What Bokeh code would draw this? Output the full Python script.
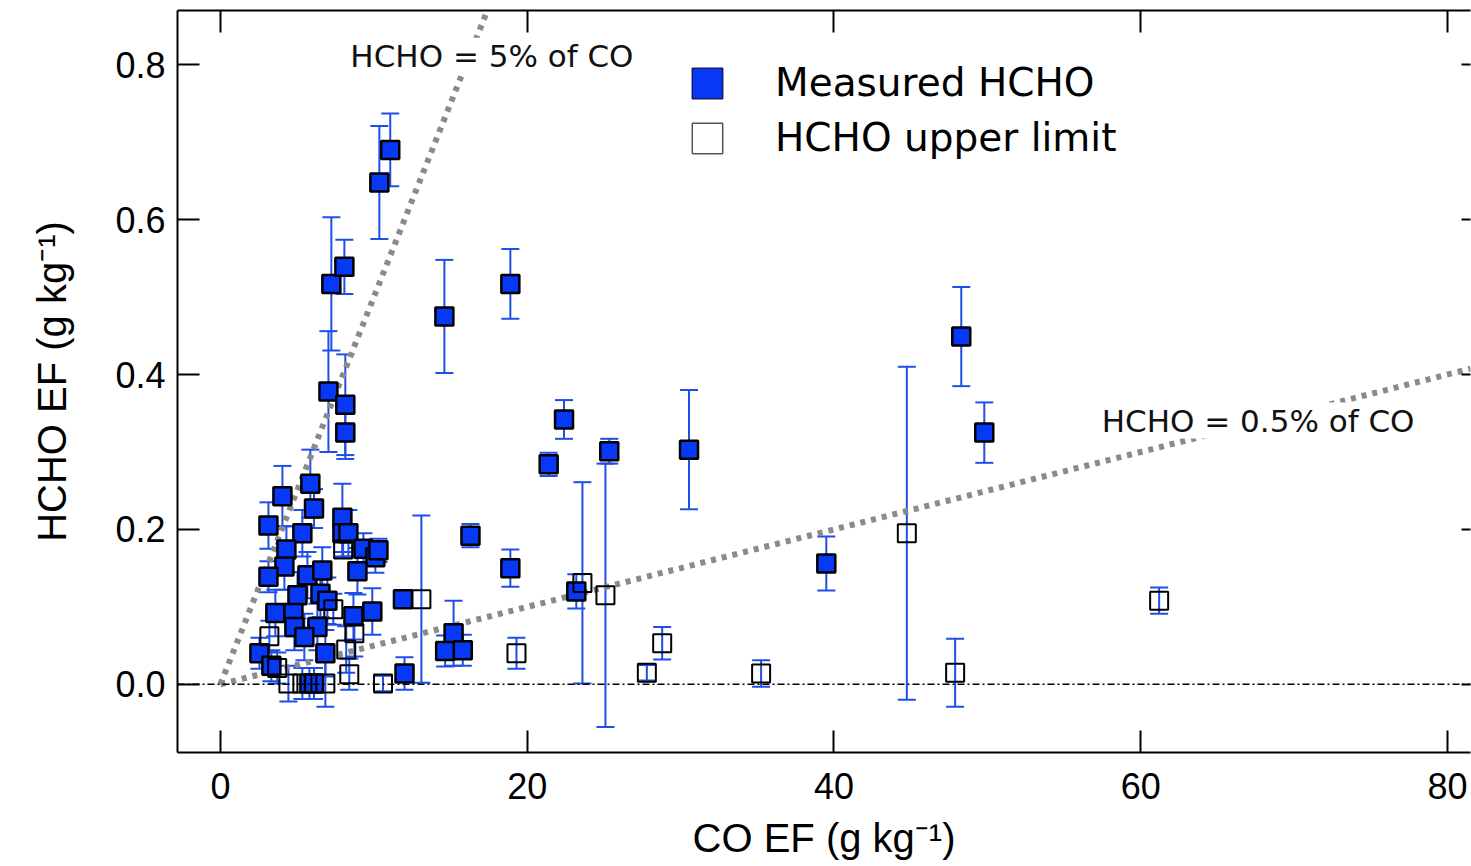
import numpy as np
from bokeh.plotting import figure
from bokeh.models import (ColumnDataSource, Whisker, TeeHead, Span, Label, Legend, LegendItem,
                          LinearAxis, FixedTicker, NumeralTickFormatter, Range1d,
                          CustomJSTickFormatter)
from bokeh.embed import file_html
from bokeh.resources import INLINE

# ---------------- data ----------------
# Measured HCHO: CO EF (g/kg), HCHO EF (g/kg), uncertainty (g/kg)
co_meas = [11.07, 10.36, 7.23, 8.08, 7.04, 8.14, 8.14, 14.6, 18.9, 22.4, 21.4, 25.35,
           30.55, 16.3, 18.9, 23.2, 11.9, 15.2, 14.65, 15.8, 12.0, 39.5, 48.3, 49.8,
           5.86, 4.04, 6.1, 3.13, 7.95, 7.95, 8.34, 5.34, 4.3, 4.17, 3.13, 5.67,
           6.64, 9.32, 10.1, 10.3, 8.93, 5.02, 6.52, 6.97, 3.58, 4.76, 4.82, 6.32,
           5.47, 8.67, 9.9, 2.54, 6.84, 3.32, 5.8, 6.1]
hcho_meas = [0.690, 0.648, 0.517, 0.539, 0.378, 0.361, 0.325, 0.475, 0.517, 0.342, 0.284, 0.301,
             0.303, 0.192, 0.150, 0.120, 0.110, 0.066, 0.043, 0.044, 0.014, 0.156, 0.449, 0.325,
             0.259, 0.243, 0.227, 0.205, 0.215, 0.195, 0.195, 0.195, 0.174, 0.152, 0.139, 0.141,
             0.147, 0.175, 0.164, 0.173, 0.146, 0.115, 0.117, 0.108, 0.092, 0.092, 0.074, 0.074,
             0.061, 0.088, 0.094, 0.040, 0.040, 0.024, 0.001, 0.001]
err_meas = [0.047, 0.073, 0.086, 0.035, 0.078, 0.065, 0.034, 0.073, 0.045, 0.025, 0.015, 0.016,
            0.077, 0.015, 0.024, 0.022, 0.008, 0.042, 0.020, 0.020, 0.021, 0.035, 0.064, 0.039,
            0.044, 0.039, 0.025, 0.030, 0.044, 0.030, 0.030, 0.030, 0.030, 0.030, 0.020, 0.030,
            0.030, 0.020, 0.020, 0.015, 0.030, 0.030, 0.030, 0.030, 0.030, 0.030, 0.030, 0.030,
            0.030, 0.030, 0.030, 0.020, 0.030, 0.020, 0.020, 0.020]

# HCHO upper limits
co_ul = [25.1, 23.6, 13.1, 19.3, 27.8, 28.8, 44.75, 47.9, 35.25, 61.2,
         3.19, 7.36, 8.73, 8.2, 8.4, 4.43, 5.34, 6.84, 10.6, 8.0, 3.7]
hcho_ul = [0.115, 0.131, 0.110, 0.040, 0.015, 0.053, 0.195, 0.015, 0.014, 0.108,
           0.062, 0.097, 0.066, 0.045, 0.013, 0.001, 0.001, 0.001, 0.001, 0.174, 0.021]
err_ul = [0.170, 0.130, 0.108, 0.020, 0.010, 0.021, 0.215, 0.044, 0.017, 0.017,
          0.020, 0.020, 0.030, 0.030, 0.020, 0.023, 0.020, 0.030, 0.010, 0.010, 0.020]

# reference ratio lines (HCHO = ratio * CO)
ratios = [0.05, 0.005]
ratio_labels = ["HCHO = 5% of CO", "HCHO = 0.5% of CO"]

x_ticks = [0, 20, 40, 60, 80]
y_ticks = [0.0, 0.2, 0.4, 0.6, 0.8]
x_lo, x_hi = -2.8, 81.5
y_lo, y_hi = -0.088, 0.87

# ---------------- figure ----------------
p = figure(width=1471, height=866, output_backend="svg", toolbar_location=None,
           x_range=Range1d(x_lo, x_hi), y_range=Range1d(y_lo, y_hi),
           min_border_left=177, min_border_right=1, min_border_top=10, min_border_bottom=114,
           x_axis_label="CO EF (g kg\u207b\u00b9)", y_axis_label="HCHO EF (g kg\u207b\u00b9)")
p.grid.visible = False
p.outline_line_color = None
p.background_fill_color = "white"
p.border_fill_color = "white"

tick_font = "Liberation Sans"
for ax in (p.xaxis[0], p.yaxis[0]):
    ax.major_tick_in = 22
    ax.major_tick_out = 0
    ax.minor_tick_line_color = None
    ax.axis_line_width = 2
    ax.major_tick_line_width = 2
    ax.axis_line_color = "black"
    ax.major_tick_line_color = "black"
    ax.major_label_text_font = tick_font
    ax.major_label_text_font_size = "36px"
    ax.major_label_text_color = "black"
    ax.axis_label_text_font = tick_font
    ax.axis_label_text_font_size = "40px"
    ax.axis_label_text_font_style = "normal"
    ax.axis_label_text_color = "black"

p.xaxis[0].ticker = FixedTicker(ticks=x_ticks)
p.yaxis[0].ticker = FixedTicker(ticks=y_ticks)
p.yaxis[0].formatter = NumeralTickFormatter(format="0.0")
p.xaxis[0].major_label_standoff = 20
p.xaxis[0].axis_label_standoff = 14
p.yaxis[0].major_label_standoff = 12
p.yaxis[0].axis_label_standoff = 38

# mirrored axes without labels (top and right)
blank = CustomJSTickFormatter(code="return ''")
top_ax = LinearAxis(ticker=FixedTicker(ticks=x_ticks), formatter=blank, major_tick_in=22,
                    major_tick_out=0, minor_tick_line_color=None, axis_line_width=2,
                    major_tick_line_width=2, major_label_standoff=0)
right_ax = LinearAxis(ticker=FixedTicker(ticks=y_ticks), formatter=blank, major_tick_in=9,
                      major_tick_out=0, minor_tick_line_color=None, axis_line_color=None,
                      major_tick_line_width=2, major_label_standoff=0)
p.add_layout(top_ax, "above")
p.add_layout(right_ax, "right")

# zero line
p.add_layout(Span(location=0, dimension="width", line_color="black", line_width=1.5,
                  line_dash="7 3 2 3"))

# ratio lines
for r in ratios:
    x_end = min(x_hi, y_hi / r)
    p.line([0, x_end], [0, r * x_end], line_color="#8a8a8a", line_width=6, line_dash="5 6")

# error bars
blue_err = "#1f4fe6"
src_m = ColumnDataSource(dict(x=co_meas, y=hcho_meas,
                              upper=np.array(hcho_meas) + np.array(err_meas),
                              lower=np.array(hcho_meas) - np.array(err_meas)))
src_u = ColumnDataSource(dict(x=co_ul, y=hcho_ul,
                              upper=np.array(hcho_ul) + np.array(err_ul),
                              lower=np.array(hcho_ul) - np.array(err_ul)))
for src in (src_m, src_u):
    w = Whisker(source=src, base="x", upper="upper", lower="lower", dimension="height",
                line_color=blue_err, line_width=2, level="underlay",
                upper_head=TeeHead(size=18, line_color=blue_err, line_width=2),
                lower_head=TeeHead(size=18, line_color=blue_err, line_width=2))
    p.add_layout(w)

# markers
p.scatter("x", "y", source=src_m, marker="square", size=18, fill_color="#0638f5",
          line_color="black", line_width=2.5)
p.scatter("x", "y", source=src_u, marker="square", size=18, fill_alpha=0,
          line_color="black", line_width=2)

# ratio labels (white background hides the line behind)
p.add_layout(Label(x=8.47, y=0.8116, text=ratio_labels[0], text_font="DejaVu Sans",
                   text_font_size="31px", text_baseline="middle", text_align="left",
                   background_fill_color="white", text_color="#111111"))
p.add_layout(Label(x=57.46, y=0.3406, text=ratio_labels[1], text_font="DejaVu Sans",
                   text_font_size="31px", text_baseline="middle", text_align="left",
                   background_fill_color="white", text_color="#111111"))

# legend proxies
nan = [np.nan]
r_meas = p.rect(x=nan, y=nan, width=1, height=1, fill_color="#0638f5", line_color="#1a1a60",
                line_width=1.5)
r_ul = p.rect(x=nan, y=nan, width=1, height=1, fill_color="white", line_color="#555555",
              line_width=1.5)
legend = Legend(items=[LegendItem(label="Measured HCHO", renderers=[r_meas]),
                       LegendItem(label="HCHO upper limit", renderers=[r_ul])],
                location=(511, 592), glyph_width=38, glyph_height=38, label_standoff=49,
                spacing=10, padding=0, margin=0, border_line_color=None,
                background_fill_alpha=0, label_text_font="DejaVu Sans",
                label_text_font_size="39px", label_text_color="black")
p.add_layout(legend, "center")

open("out.html", "w").write(file_html(p, INLINE))
